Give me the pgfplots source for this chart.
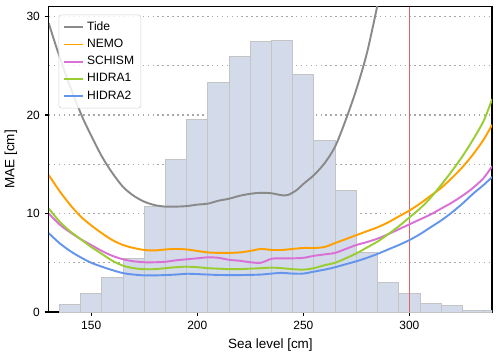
\documentclass[border=0pt]{standalone}
\usepackage{fontspec}
\setmainfont{Liberation Sans}
\usepackage{pgfplots}
\pgfplotsset{compat=1.18}

\definecolor{tidec}{HTML}{8A8A8A}
\definecolor{nemoc}{HTML}{FFA000}
\definecolor{schismc}{HTML}{DA70D6}
\definecolor{hidraA}{HTML}{9ACD32}
\definecolor{hidraB}{HTML}{6495ED}
\definecolor{histfill}{HTML}{D3DAE9}
\definecolor{histedge}{HTML}{C4C4C4}
\definecolor{thrline}{HTML}{E0606C}
\definecolor{gridc}{HTML}{A8A8A8}

\begin{document}
\begin{tikzpicture}
\begin{axis}[
    scale only axis,
    width=323pt, height=222.5pt,
    xmin=130, xmax=339,
    ymin=0, ymax=31,
    xtick={150,200,250,300},
    ytick={0,10,20,30},
    minor ytick={5,15,25},
    minor tick length=0pt,
    ymajorgrids=true, yminorgrids=true,
    every major grid/.style={draw=gridc, line width=0.9pt, dash pattern=on 1.2pt off 2.4pt},
    every minor grid/.style={draw=gridc, line width=0.9pt, dash pattern=on 1.2pt off 2.4pt},
    axis lines=box,
    tick align=outside,
    tick pos=left,
    major tick length=3pt,
    tick style={black, line width=0.8pt},
    axis line style={draw=black, line width=1pt},
    /pgf/number format/assume math mode=true,
    ticklabel style={font=\fontsize{8.7}{10}\selectfont},
    xlabel={Sea level [cm]},
    ylabel={MAE [cm]},
    label style={font=\fontsize{9.8}{11}\selectfont},
    legend style={at={(0.022,0.974)}, anchor=north west,
        font=\fontsize{8.8}{10}\selectfont,
        draw=gray!35, fill=white, fill opacity=0.85, text opacity=1,
        rounded corners=2pt, row sep=0.9pt, inner sep=3pt},
    legend cell align={left},
    legend image code/.code={\draw[#1] (0cm,0cm) -- (0.5cm,0cm);},
]
% histogram of sea levels (scaled)
\addplot[ybar, bar width=10, bar shift=0pt, fill=histfill, draw=histedge, line width=0.7pt, forget plot] coordinates {
    (140,0.75) (150,1.9) (160,3.5) (170,5.4) (180,10.7) (190,15.5)
    (200,19.5) (210,23.3) (220,25.9) (230,27.5) (240,27.6) (250,24.1)
    (260,17.4) (270,12.3) (280,6.0) (290,3.0) (300,1.85) (310,0.87)
    (320,0.64) (330,0.17) (340,0.15)
};
% threshold line
\addplot[color=thrline, solid, line width=1.2pt, forget plot] coordinates {(300,0) (300,31)};

\addplot[tidec, line width=1.4pt, smooth] coordinates {
    (130,29.3) (134,26.6) (138,24.1) (142,21.8) (146,19.7) (150,17.9)
    (155,15.8) (160,14.1) (165,12.7) (170,11.8) (175,11.2) (180,10.85)
    (185,10.7) (190,10.7) (195,10.75) (200,10.9) (205,11.0) (210,11.3)
    (215,11.5) (220,11.8) (225,12.0) (230,12.1) (235,12.05) (240,11.85)
    (243,11.9) (247,12.4) (250,13.0) (255,13.9) (260,15.1) (265,16.8)
    (270,19.5) (275,22.6) (280,26.3) (285,31.2)
};
\addlegendentry{Tide}

\addplot[nemoc, line width=1.4pt, smooth] coordinates {
    (130,13.9) (135,12.3) (140,10.9) (145,9.7) (150,8.8) (155,8.0)
    (160,7.3) (165,6.8) (170,6.5) (175,6.3) (180,6.25) (185,6.35)
    (190,6.4) (195,6.35) (200,6.2) (205,6.05) (210,6.0) (215,6.0)
    (220,6.05) (225,6.2) (230,6.4) (235,6.3) (240,6.3) (245,6.4)
    (250,6.5) (255,6.5) (260,6.6) (265,7.0) (270,7.4) (275,7.8)
    (280,8.2) (285,8.6) (290,9.1) (295,9.7) (300,10.3) (305,11.0)
    (310,11.8) (315,12.6) (320,13.6) (325,14.7) (330,16.0) (335,17.5)
    (339,19.0)
};
\addlegendentry{NEMO}

\addplot[schismc, line width=1.4pt, smooth] coordinates {
    (130,10.0) (135,8.9) (140,8.1) (145,7.4) (150,6.8) (155,6.2)
    (160,5.7) (165,5.35) (170,5.15) (175,5.05) (180,5.05) (185,5.1)
    (190,5.25) (195,5.35) (200,5.45) (205,5.55) (210,5.5) (215,5.3)
    (220,5.2) (225,5.05) (230,5.0) (235,5.4) (240,5.45) (245,5.45)
    (250,5.5) (255,5.7) (260,5.85) (265,6.0) (270,6.4) (275,6.8)
    (280,7.1) (285,7.45) (290,7.9) (295,8.4) (300,8.9) (305,9.4)
    (310,9.9) (315,10.5) (320,11.1) (325,11.8) (330,12.6) (335,13.6)
    (339,14.8)
};
\addlegendentry{SCHISM}

\addplot[hidraA, line width=1.4pt, smooth] coordinates {
    (130,10.5) (135,9.2) (140,8.2) (145,7.4) (150,6.6) (155,5.9)
    (160,5.2) (165,4.7) (170,4.45) (175,4.35) (180,4.35) (185,4.45)
    (190,4.55) (195,4.6) (200,4.55) (205,4.45) (210,4.4) (215,4.35)
    (220,4.35) (225,4.4) (230,4.45) (235,4.5) (240,4.45) (245,4.35)
    (250,4.3) (255,4.45) (260,4.75) (265,5.0) (270,5.45) (275,5.95)
    (280,6.55) (285,7.15) (290,7.9) (295,8.7) (300,9.6) (305,10.5)
    (310,11.6) (315,12.9) (320,14.3) (325,15.8) (330,17.5) (335,19.4)
    (339,21.6)
};
\addlegendentry{HIDRA1}

\addplot[hidraB, line width=1.4pt, smooth] coordinates {
    (130,8.0) (135,7.0) (140,6.2) (145,5.55) (150,5.0) (155,4.6)
    (160,4.25) (165,3.95) (170,3.8) (175,3.72) (180,3.72) (185,3.75)
    (190,3.8) (195,3.88) (200,3.85) (205,3.8) (210,3.76) (215,3.75)
    (220,3.75) (225,3.77) (230,3.8) (235,3.9) (240,3.97) (245,3.9)
    (250,3.9) (255,4.1) (260,4.3) (265,4.55) (270,4.85) (275,5.15)
    (280,5.5) (285,5.9) (290,6.35) (295,6.8) (300,7.3) (305,7.9)
    (310,8.6) (315,9.3) (320,10.1) (325,11.0) (330,12.0) (335,12.9)
    (339,13.7)
};
\addlegendentry{HIDRA2}

\coordinate (pgbl) at (rel axis cs:-0.0958,-0.1337);
\coordinate (pgtr) at (rel axis cs:1.0178,1.0217);
\end{axis}
% page extent to match the reference proportions
\path (pgbl) rectangle (pgtr);
\end{tikzpicture}
\end{document}
